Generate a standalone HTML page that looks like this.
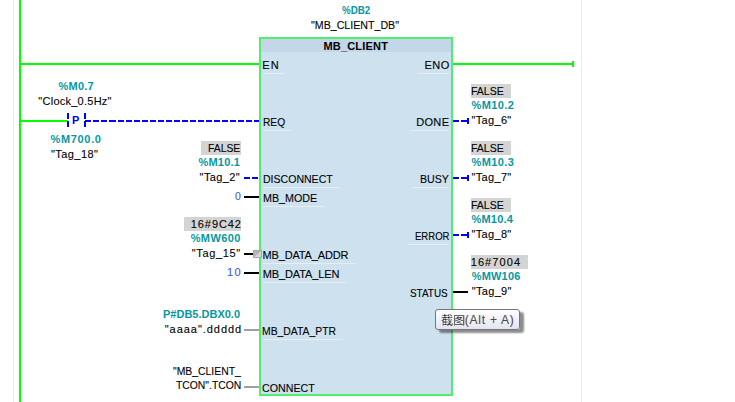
<!DOCTYPE html>
<html><head><meta charset="utf-8"><style>
html,body{margin:0;padding:0;background:#fff;width:735px;height:402px;overflow:hidden;position:relative}
div{position:absolute}
.t{position:absolute;font-family:"Liberation Sans",sans-serif;font-size:11px;line-height:13px;white-space:pre}
</style></head><body>
<div style="left:13px;top:0px;width:1px;height:402px;background:#ececec;"></div>
<div style="left:581px;top:0px;width:1px;height:402px;background:#ececec;"></div>
<div style="left:19px;top:0px;width:2px;height:402px;background:#00ff00;"></div>
<div style="left:21px;top:63px;width:238px;height:2px;background:#00ff00;"></div>
<div style="left:453px;top:63px;width:120px;height:2px;background:#00ff00;"></div>
<div style="left:572px;top:61px;width:2px;height:6px;background:#00ff00;"></div>
<div style="left:21px;top:120px;width:47px;height:2px;background:#00ff00;"></div>
<div style="left:67px;top:113px;width:2px;height:6px;background:#0000ff;"></div>
<div style="left:67px;top:121px;width:2px;height:6px;background:#0000ff;"></div>
<div style="left:84px;top:113px;width:2px;height:6px;background:#0000ff;"></div>
<div style="left:84px;top:121px;width:2px;height:6px;background:#0000ff;"></div>
<div style="left:85px;top:120px;width:6px;height:2px;background:#0000ff;"></div>
<div style="left:93px;top:120px;width:6px;height:2px;background:#0000ff;"></div>
<div style="left:101px;top:120px;width:6px;height:2px;background:#0000ff;"></div>
<div style="left:109px;top:120px;width:7px;height:2px;background:#0000ff;"></div>
<div style="left:118px;top:120px;width:6px;height:2px;background:#0000ff;"></div>
<div style="left:126px;top:120px;width:6px;height:2px;background:#0000ff;"></div>
<div style="left:134px;top:120px;width:6px;height:2px;background:#0000ff;"></div>
<div style="left:142px;top:120px;width:6px;height:2px;background:#0000ff;"></div>
<div style="left:150px;top:120px;width:6px;height:2px;background:#0000ff;"></div>
<div style="left:158px;top:120px;width:6px;height:2px;background:#0000ff;"></div>
<div style="left:166px;top:120px;width:6px;height:2px;background:#0000ff;"></div>
<div style="left:174px;top:120px;width:6px;height:2px;background:#0000ff;"></div>
<div style="left:182px;top:120px;width:6px;height:2px;background:#0000ff;"></div>
<div style="left:190px;top:120px;width:6px;height:2px;background:#0000ff;"></div>
<div style="left:198px;top:120px;width:6px;height:2px;background:#0000ff;"></div>
<div style="left:206px;top:120px;width:6px;height:2px;background:#0000ff;"></div>
<div style="left:214px;top:120px;width:6px;height:2px;background:#0000ff;"></div>
<div style="left:222px;top:120px;width:6px;height:2px;background:#0000ff;"></div>
<div style="left:230px;top:120px;width:6px;height:2px;background:#0000ff;"></div>
<div style="left:238px;top:120px;width:6px;height:2px;background:#0000ff;"></div>
<div style="left:246px;top:120px;width:6px;height:2px;background:#0000ff;"></div>
<div style="left:254px;top:120px;width:5px;height:2px;background:#0000ff;"></div>
<div style="left:259px;top:37px;width:194px;height:359px;background:#50ee6e;"></div>
<div style="left:261px;top:39px;width:190px;height:13px;background:#c3d7e8;"></div>
<div style="left:261px;top:52px;width:190px;height:342px;background:#cde1ef;"></div>
<div style="left:244px;top:177px;width:6px;height:2px;background:#0000ff;"></div>
<div style="left:252px;top:177px;width:6px;height:2px;background:#0000ff;"></div>
<div style="left:244px;top:196px;width:15px;height:2px;background:#000;"></div>
<div style="left:244px;top:253px;width:9px;height:2px;background:#000;"></div>
<div style="left:244px;top:272px;width:15px;height:2px;background:#000;"></div>
<div style="left:244px;top:329px;width:15px;height:2px;background:#a0a0a0;"></div>
<div style="left:244px;top:386px;width:15px;height:2px;background:#a0a0a0;"></div>
<svg style="position:absolute;left:253px;top:250px" width="9" height="8"><rect x="0" y="0" width="9" height="8" fill="#a8a8a8"/><polygon points="1,7 8,1 8,7" fill="#d6d6d6"/><polygon points="1,1 7,1 1,6" fill="#b8b8b8"/></svg>
<div style="left:453px;top:120px;width:6px;height:2px;background:#0000ff;"></div>
<div style="left:461px;top:120px;width:6px;height:2px;background:#0000ff;"></div>
<div style="left:467px;top:118px;width:2px;height:6px;background:#0000ff;"></div>
<div style="left:471px;top:84px;width:40px;height:14px;background:#d4d4d4;"></div>
<div style="left:453px;top:177px;width:6px;height:2px;background:#0000ff;"></div>
<div style="left:461px;top:177px;width:6px;height:2px;background:#0000ff;"></div>
<div style="left:467px;top:175px;width:2px;height:6px;background:#0000ff;"></div>
<div style="left:471px;top:141px;width:40px;height:14px;background:#d4d4d4;"></div>
<div style="left:453px;top:234px;width:6px;height:2px;background:#0000ff;"></div>
<div style="left:461px;top:234px;width:6px;height:2px;background:#0000ff;"></div>
<div style="left:467px;top:232px;width:2px;height:6px;background:#0000ff;"></div>
<div style="left:471px;top:198px;width:40px;height:14px;background:#d4d4d4;"></div>
<div style="left:453px;top:291px;width:15px;height:2px;background:#000;"></div>
<div style="left:471px;top:255px;width:57px;height:14px;background:#d4d4d4;"></div>
<div style="left:201px;top:141px;width:40px;height:14px;background:#d4d4d4;"></div>
<div style="left:184px;top:217px;width:57px;height:14px;background:#d4d4d4;"></div>
<div style="left:263px;top:73px;width:22px;height:1px;background:#e8edf3;"></div>
<div style="left:263px;top:130px;width:29px;height:1px;background:#e8edf3;"></div>
<div style="left:263px;top:187px;width:76px;height:1px;background:#e8edf3;"></div>
<div style="left:263px;top:206px;width:62px;height:1px;background:#e8edf3;"></div>
<div style="left:263px;top:263px;width:92px;height:1px;background:#e8edf3;"></div>
<div style="left:263px;top:282px;width:83px;height:1px;background:#e8edf3;"></div>
<div style="left:263px;top:339px;width:80px;height:1px;background:#e8edf3;"></div>
<div style="left:418px;top:73px;width:31px;height:1px;background:#e8edf3;"></div>
<div style="left:410px;top:130px;width:39px;height:1px;background:#e8edf3;"></div>
<div style="left:413px;top:187px;width:36px;height:1px;background:#e8edf3;"></div>
<div style="left:408px;top:244px;width:41px;height:1px;background:#e8edf3;"></div>
<div style="left:435px;top:309px;width:83px;height:19px;border:1px solid #767676;border-radius:3px;background:linear-gradient(#ffffff,#e3e4ef);box-shadow:4px 3px 2px rgba(0,0,0,0.45)"></div><svg style="position:absolute;left:441px;top:314px" width="24" height="12" fill="#383838" shape-rendering="crispEdges"><path fill-opacity="0.25" d="M4 0h1v1h-1zM8 0h1v1h-1zM8 1h1v1h-1zM23 1h1v1h-1zM4 2h1v1h-1zM8 2h1v1h-1zM10 2h1v1h-1zM16 2h1v1h-1zM23 2h1v1h-1zM0 3h1v1h-1zM11 3h1v1h-1zM15 3h1v1h-1zM21 3h1v1h-1zM23 3h1v1h-1zM3 4h1v1h-1zM8 4h1v1h-1zM18 4h1v1h-1zM20 4h1v1h-1zM23 4h1v1h-1zM1 5h1v1h-1zM9 5h1v1h-1zM14 5h1v1h-1zM16 5h1v1h-1zM20 5h1v1h-1zM23 5h1v1h-1zM0 6h1v1h-1zM10 6h1v1h-1zM17 6h1v1h-1zM19 6h1v1h-1zM23 6h1v1h-1zM6 7h1v1h-1zM7 7h1v1h-1zM10 7h1v1h-1zM14 7h1v1h-1zM16 7h1v1h-1zM19 7h1v1h-1zM23 7h1v1h-1zM1 8h1v1h-1zM6 8h1v1h-1zM7 8h1v1h-1zM15 8h1v1h-1zM19 8h1v1h-1zM23 8h1v1h-1zM1 9h1v1h-1zM9 9h1v1h-1zM10 9h1v1h-1zM18 9h1v1h-1zM20 9h1v1h-1zM23 9h1v1h-1zM1 10h1v1h-1zM23 10h1v1h-1zM1 11h1v1h-1zM2 11h1v1h-1zM7 11h1v1h-1zM11 11h1v1h-1z"/><path fill-opacity="0.50" d="M3 0h1v1h-1zM7 0h1v1h-1zM9 0h1v1h-1zM1 1h1v1h-1zM6 1h1v1h-1zM9 1h1v1h-1zM3 2h1v1h-1zM7 2h1v1h-1zM17 2h1v1h-1zM2 4h1v1h-1zM4 4h1v1h-1zM7 4h1v1h-1zM14 4h1v1h-1zM17 4h1v1h-1zM6 5h1v1h-1zM7 5h1v1h-1zM8 5h1v1h-1zM10 5h1v1h-1zM19 5h1v1h-1zM2 6h1v1h-1zM4 6h1v1h-1zM7 6h1v1h-1zM8 6h1v1h-1zM9 6h1v1h-1zM14 6h1v1h-1zM16 6h1v1h-1zM1 7h1v1h-1zM3 7h1v1h-1zM5 7h1v1h-1zM17 7h1v1h-1zM3 8h1v1h-1zM5 8h1v1h-1zM9 8h1v1h-1zM18 8h1v1h-1zM2 9h1v1h-1zM4 9h1v1h-1zM7 9h1v1h-1zM11 9h1v1h-1zM19 9h1v1h-1zM10 10h1v1h-1zM11 10h1v1h-1zM6 11h1v1h-1zM9 11h1v1h-1zM13 11h1v1h-1zM22 11h1v1h-1z"/><path fill-opacity="0.75" d="M2 1h1v1h-1zM5 1h1v1h-1zM7 1h1v1h-1zM10 1h1v1h-1zM13 1h1v1h-1zM14 1h1v1h-1zM15 1h1v1h-1zM16 1h1v1h-1zM17 1h1v1h-1zM18 1h1v1h-1zM19 1h1v1h-1zM20 1h1v1h-1zM21 1h1v1h-1zM22 1h1v1h-1zM13 2h1v1h-1zM22 2h1v1h-1zM1 3h1v1h-1zM2 3h1v1h-1zM5 3h1v1h-1zM6 3h1v1h-1zM8 3h1v1h-1zM9 3h1v1h-1zM10 3h1v1h-1zM13 3h1v1h-1zM17 3h1v1h-1zM18 3h1v1h-1zM20 3h1v1h-1zM22 3h1v1h-1zM13 4h1v1h-1zM15 4h1v1h-1zM16 4h1v1h-1zM19 4h1v1h-1zM22 4h1v1h-1zM3 5h1v1h-1zM5 5h1v1h-1zM13 5h1v1h-1zM17 5h1v1h-1zM22 5h1v1h-1zM1 6h1v1h-1zM13 6h1v1h-1zM15 6h1v1h-1zM20 6h1v1h-1zM21 6h1v1h-1zM22 6h1v1h-1zM2 7h1v1h-1zM4 7h1v1h-1zM8 7h1v1h-1zM9 7h1v1h-1zM13 7h1v1h-1zM18 7h1v1h-1zM22 7h1v1h-1zM2 8h1v1h-1zM4 8h1v1h-1zM8 8h1v1h-1zM13 8h1v1h-1zM16 8h1v1h-1zM17 8h1v1h-1zM22 8h1v1h-1zM13 9h1v1h-1zM22 9h1v1h-1zM2 10h1v1h-1zM3 10h1v1h-1zM5 10h1v1h-1zM6 10h1v1h-1zM8 10h1v1h-1zM9 10h1v1h-1zM13 10h1v1h-1zM14 10h1v1h-1zM15 10h1v1h-1zM16 10h1v1h-1zM17 10h1v1h-1zM18 10h1v1h-1zM19 10h1v1h-1zM20 10h1v1h-1zM21 10h1v1h-1zM22 10h1v1h-1zM10 11h1v1h-1z"/><path fill-opacity="1.00" d="M3 1h1v1h-1zM4 1h1v1h-1zM3 3h1v1h-1zM4 3h1v1h-1zM7 3h1v1h-1zM16 3h1v1h-1zM19 3h1v1h-1zM2 5h1v1h-1zM4 5h1v1h-1zM18 5h1v1h-1zM8 9h1v1h-1zM4 10h1v1h-1zM7 10h1v1h-1z"/></svg>
<span class="t" style="left:341.80px;top:4px;letter-spacing:0.000px;transform:scaleX(0.8875);transform-origin:0 0;font-weight:700;color:#0897a1">%DB2</span>
<span class="t" style="left:311.00px;top:19px;letter-spacing:0.000px;transform:scaleX(0.9670);transform-origin:0 0;font-weight:400;color:#000;-webkit-text-stroke:0.1px currentColor">"MB_CLIENT_DB"</span>
<span class="t" style="left:323.45px;top:40px;letter-spacing:0.188px;font-weight:700;color:#000">MB_CLIENT</span>
<span class="t" style="left:58.50px;top:80px;letter-spacing:0.250px;font-weight:700;color:#0897a1">%M0.7</span>
<span class="t" style="left:38.35px;top:95px;letter-spacing:0.250px;font-weight:400;color:#000;-webkit-text-stroke:0.1px currentColor">"Clock_0.5Hz"</span>
<span class="t" style="left:50.50px;top:133px;letter-spacing:0.667px;font-weight:700;color:#0897a1">%M700.0</span>
<span class="t" style="left:51.00px;top:148px;letter-spacing:0.429px;font-weight:400;color:#000;-webkit-text-stroke:0.1px currentColor">"Tag_18"</span>
<span class="t" style="left:208.06px;top:142px;letter-spacing:0.000px;transform:scaleX(0.9394);transform-origin:0 0;font-weight:400;color:#000;-webkit-text-stroke:0.1px currentColor">FALSE</span>
<span class="t" style="left:198.50px;top:156px;letter-spacing:0.200px;font-weight:700;color:#0897a1">%M10.1</span>
<span class="t" style="left:199.60px;top:171px;letter-spacing:0.400px;font-weight:400;color:#000;-webkit-text-stroke:0.1px currentColor">"Tag_2"</span>
<span class="t" style="left:234.80px;top:190px;letter-spacing:0.000px;transform:scaleX(0.9500);transform-origin:0 0;font-weight:400;color:#3a5ae0;-webkit-text-stroke:0.1px currentColor">0</span>
<span class="t" style="left:190.80px;top:218px;letter-spacing:0.917px;font-weight:400;color:#000;-webkit-text-stroke:0.1px currentColor">16#9C42</span>
<span class="t" style="left:190.70px;top:232px;letter-spacing:0.400px;font-weight:700;color:#0897a1">%MW600</span>
<span class="t" style="left:191.80px;top:247px;letter-spacing:0.643px;font-weight:400;color:#000;-webkit-text-stroke:0.1px currentColor">"Tag_15"</span>
<span class="t" style="left:227.00px;top:266px;letter-spacing:1.500px;font-weight:400;color:#3a5ae0;-webkit-text-stroke:0.1px currentColor">10</span>
<span class="t" style="left:163.00px;top:308px;letter-spacing:0.000px;font-weight:700;color:#0897a1">P#DB5.DBX0.0</span>
<span class="t" style="left:164.70px;top:323px;letter-spacing:0.964px;font-weight:400;color:#000;-webkit-text-stroke:0.1px currentColor">"aaaa".ddddd</span>
<span class="t" style="left:173.00px;top:365px;letter-spacing:0.000px;transform:scaleX(0.9444);transform-origin:0 0;font-weight:400;color:#000;-webkit-text-stroke:0.1px currentColor">"MB_CLIENT_</span>
<span class="t" style="left:176.00px;top:379px;letter-spacing:0.000px;transform:scaleX(0.9420);transform-origin:0 0;font-weight:400;color:#000;-webkit-text-stroke:0.1px currentColor">TCON".TCON</span>
<span class="t" style="left:470.55px;top:85px;letter-spacing:0.000px;transform:scaleX(0.9545);transform-origin:0 0;font-weight:400;color:#000;-webkit-text-stroke:0.1px currentColor">FALSE</span>
<span class="t" style="left:471.50px;top:99px;letter-spacing:0.400px;font-weight:700;color:#0897a1">%M10.2</span>
<span class="t" style="left:471.50px;top:114px;letter-spacing:0.333px;font-weight:400;color:#000;-webkit-text-stroke:0.1px currentColor">"Tag_6"</span>
<span class="t" style="left:470.55px;top:142px;letter-spacing:0.000px;transform:scaleX(0.9545);transform-origin:0 0;font-weight:400;color:#000;-webkit-text-stroke:0.1px currentColor">FALSE</span>
<span class="t" style="left:471.50px;top:156px;letter-spacing:0.400px;font-weight:700;color:#0897a1">%M10.3</span>
<span class="t" style="left:471.50px;top:171px;letter-spacing:0.333px;font-weight:400;color:#000;-webkit-text-stroke:0.1px currentColor">"Tag_7"</span>
<span class="t" style="left:470.55px;top:199px;letter-spacing:0.000px;transform:scaleX(0.9545);transform-origin:0 0;font-weight:400;color:#000;-webkit-text-stroke:0.1px currentColor">FALSE</span>
<span class="t" style="left:471.50px;top:213px;letter-spacing:0.200px;font-weight:700;color:#0897a1">%M10.4</span>
<span class="t" style="left:471.50px;top:228px;letter-spacing:0.333px;font-weight:400;color:#000;-webkit-text-stroke:0.1px currentColor">"Tag_8"</span>
<span class="t" style="left:470.70px;top:256px;letter-spacing:1.083px;font-weight:400;color:#000;-webkit-text-stroke:0.1px currentColor">16#7004</span>
<span class="t" style="left:471.70px;top:270px;letter-spacing:0.200px;font-weight:700;color:#0897a1">%MW106</span>
<span class="t" style="left:471.70px;top:285px;letter-spacing:0.333px;font-weight:400;color:#000;-webkit-text-stroke:0.1px currentColor">"Tag_9"</span>
<span class="t" style="left:262.30px;top:59px;letter-spacing:1.000px;font-weight:400;color:#000;-webkit-text-stroke:0.1px currentColor">EN</span>
<span class="t" style="left:262.67px;top:116px;letter-spacing:0.000px;transform:scaleX(0.9273);transform-origin:0 0;font-weight:400;color:#000;-webkit-text-stroke:0.1px currentColor">REQ</span>
<span class="t" style="left:262.74px;top:173px;letter-spacing:0.000px;transform:scaleX(0.9583);transform-origin:0 0;font-weight:400;color:#000;-webkit-text-stroke:0.1px currentColor">DISCONNECT</span>
<span class="t" style="left:262.72px;top:192px;letter-spacing:0.000px;transform:scaleX(0.9759);transform-origin:0 0;font-weight:400;color:#000;-webkit-text-stroke:0.1px currentColor">MB_MODE</span>
<span class="t" style="left:262.50px;top:249px;letter-spacing:-0.155px;font-weight:400;color:#000;-webkit-text-stroke:0.1px currentColor">MB_DATA_ADDR</span>
<span class="t" style="left:262.70px;top:268px;letter-spacing:-0.100px;font-weight:400;color:#000;-webkit-text-stroke:0.1px currentColor">MB_DATA_LEN</span>
<span class="t" style="left:262.36px;top:325px;letter-spacing:0.000px;transform:scaleX(0.9429);transform-origin:0 0;font-weight:400;color:#000;-webkit-text-stroke:0.1px currentColor">MB_DATA_PTR</span>
<span class="t" style="left:262.23px;top:382px;letter-spacing:0.000px;transform:scaleX(0.9698);transform-origin:0 0;font-weight:400;color:#000;-webkit-text-stroke:0.1px currentColor">CONNECT</span>
<span class="t" style="left:424.40px;top:59px;letter-spacing:0.500px;font-weight:400;color:#000;-webkit-text-stroke:0.1px currentColor">ENO</span>
<span class="t" style="left:416.20px;top:116px;letter-spacing:0.333px;font-weight:400;color:#000;-webkit-text-stroke:0.1px currentColor">DONE</span>
<span class="t" style="left:419.53px;top:173px;letter-spacing:0.000px;transform:scaleX(0.9655);transform-origin:0 0;font-weight:400;color:#000;-webkit-text-stroke:0.1px currentColor">BUSY</span>
<span class="t" style="left:414.63px;top:230px;letter-spacing:0.000px;transform:scaleX(0.8684);transform-origin:0 0;font-weight:400;color:#000;-webkit-text-stroke:0.1px currentColor">ERROR</span>
<span class="t" style="left:409.90px;top:287px;letter-spacing:0.000px;transform:scaleX(0.9024);transform-origin:0 0;font-weight:400;color:#000;-webkit-text-stroke:0.1px currentColor">STATUS</span>
<span class="t" style="left:464.80px;top:314px;letter-spacing:0.750px;font-size:12px;font-weight:400;color:#4c4c4c;-webkit-text-stroke:0.1px currentColor">(Alt + A)</span>
<span class="t" style="left:72.00px;top:114px;letter-spacing:0.000px;font-weight:700;color:#0000ff">P</span>
</body></html>
